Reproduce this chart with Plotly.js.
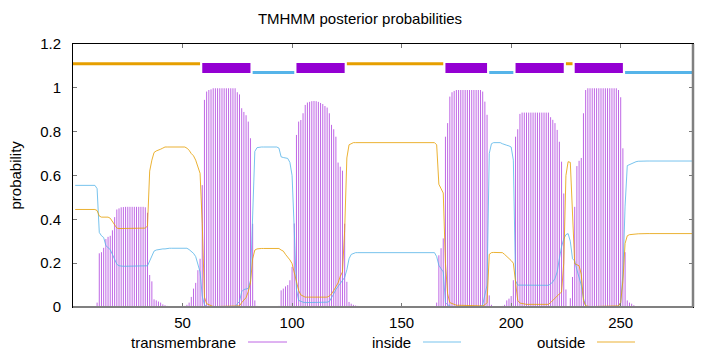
<!DOCTYPE html>
<html>
<head>
<meta charset="utf-8">
<script src="https://cdn.plot.ly/plotly-3.0.1.min.js"></script>
<style>
  html, body { margin: 0; padding: 0; background: #fff; }
  #chart { width: 720px; height: 352px; }
</style>
</head>
<body>
<div id="chart"></div>
<script>
// Posterior probability per residue (1..283)
const transmembrane = [
  0,0,0,0,0,0,0,0,0,0,                                  // 1-10
  .02,.245,.25,.27,.31,.32,.325,.35,.41,.445,           // 11-20
  .45,.455,.456,.457,.457,.457,.457,.457,.457,.457,     // 21-30
  .457,.457,.455,.43,.146,.117,.035,.03,.025,.02,       // 31-40
  .012,.008,.005,.002,.002,.002,.002,.002,.002,.002,    // 41-50
  .005,.01,.02,.046,.084,.11,.168,.22,.556,.945,        // 51-60
  .983,.99,.993,.998,.998,.998,.998,.998,.998,.998,     // 61-70
  .998,.998,.998,.998,.98,.97,.907,.89,.875,.846,       // 71-80
  .77,.38,.03,.005,.002,.002,.002,.002,.002,.002,       // 81-90
  .002,.002,.002,.005,.076,.084,.094,.1,.122,.183,      // 91-100
  .381,.785,.846,.853,.884,.922,.933,.936,.939,.94,     // 101-110
  .939,.936,.931,.926,.917,.91,.884,.831,.811,.777,     // 111-120
  .659,.64,.622,.38,.115,.023,.015,.01,.007,.005,       // 121-130
  .003,.003,.003,.003,.003,.001,.001,.001,.001,.001,    // 131-140
  .001,.001,.001,.001,.001,.001,.001,.001,.001,.001,    // 141-150
  .001,.001,.001,.001,.001,.001,.001,.001,.001,.001,    // 151-160
  .001,.001,.001,.001,.002,.02,.236,.268,.313,.777,     // 161-170
  .839,.96,.98,.986,.99,.99,.99,.99,.99,.99,            // 171-180
  .99,.99,.99,.99,.99,.99,.983,.937,.877,.053,          // 181-190
  .01,.002,.002,.002,.002,.005,.01,.03,.038,.05,        // 191-200
  .122,.777,.811,.881,.887,.887,.887,.887,.887,.887,    // 201-210
  .887,.887,.887,.887,.887,.887,.887,.866,.854,.839,    // 211-220
  .808,.754,.663,.518,.08,.002,.04,.137,.457,.643,      // 221-230
  .667,.68,.884,.99,.998,.998,.998,.998,.998,.998,      // 231-240
  .998,.998,.998,.998,.998,.998,.998,.998,.99,.957,     // 241-250
  .724,.25,.03,.02,.015,.008,.001,.001,.001,.001,       // 251-260
  .001,.001,.001,.001,.001,.001,.001,.001,.001,.001,    // 261-270
  .001,.001,.001,.001,.001,.001,.001,.001,.001,.001,    // 271-280
  .001,.001,.001                                        // 281-283
];
const inside = [
  .555,.555,.555,.555,.555,.555,.555,.555,.555,.555,    // 1-10
  .54,.34,.325,.317,.28,.27,.262,.24,.215,.195,         // 11-20
  .188,.186,.186,.186,.186,.186,.186,.186,.186,.186,    // 21-30
  .186,.186,.186,.188,.21,.23,.255,.26,.262,.265,       // 31-40
  .265,.265,.268,.268,.268,.268,.268,.268,.268,.268,    // 41-50
  .268,.268,.262,.255,.245,.23,.2,.16,.05,.01,          // 51-60
  .002,0,0,0,0,0,0,0,0,0,                               // 61-70
  0,0,0,0,.015,.025,.07,.08,.082,.085,                  // 71-80
  .12,.4,.71,.727,.73,.73,.73,.73,.73,.73,              // 81-90
  .73,.73,.73,.725,.685,.682,.68,.678,.66,.6,           // 91-100
  .35,.08,.03,.025,.022,.02,.02,.02,.02,.02,            // 101-110
  .02,.02,.02,.02,.02,.022,.025,.04,.06,.08,            // 111-120
  .095,.11,.125,.135,.17,.22,.24,.244,.248,.248,        // 121-130
  .248,.248,.248,.248,.25,.25,.25,.25,.25,.25,          // 131-140
  .25,.25,.25,.25,.25,.25,.25,.25,.25,.25,              // 141-150
  .25,.25,.25,.25,.25,.25,.25,.25,.25,.25,              // 151-160
  .25,.25,.25,.25,.248,.23,.19,.175,.16,.02,            // 161-170
  .01,.005,0,0,0,0,0,0,0,0,                             // 171-180
  0,0,0,0,0,0,.01,.05,.1,.7,                            // 181-190
  .745,.75,.75,.75,.75,.745,.74,.738,.735,.73,          // 191-200
  .67,.12,.1,.1,.099,.099,.099,.099,.099,.099,          // 201-210
  .099,.099,.099,.099,.099,.099,.099,.105,.115,.13,     // 211-220
  .16,.22,.275,.31,.33,.335,.3,.22,.21,.17,             // 221-230
  .137,.1,.04,.005,0,0,0,0,0,0,                         // 231-240
  0,0,0,0,0,0,0,0,.005,.02,                             // 241-250
  .15,.46,.645,.65,.655,.66,.663,.665,.666,.666,        // 251-260
  .666,.666,.666,.666,.666,.666,.666,.666,.666,.666,    // 261-270
  .666,.666,.666,.666,.666,.666,.666,.666,.666,.666,    // 271-280
  .666,.666,.666                                        // 281-283
];
const outside = [
  .445,.445,.445,.445,.445,.445,.445,.445,.445,.445,    // 1-10
  .44,.415,.41,.41,.41,.41,.405,.39,.37,.36,            // 11-20
  .358,.358,.358,.358,.358,.358,.358,.358,.358,.358,    // 21-30
  .358,.358,.36,.37,.62,.67,.705,.712,.715,.72,         // 31-40
  .725,.73,.73,.73,.73,.73,.73,.73,.73,.73,             // 41-50
  .73,.725,.715,.70,.69,.67,.64,.61,.38,.045,           // 51-60
  .015,.01,.007,.002,.002,.002,.002,.002,.002,.002,     // 61-70
  .002,.002,.002,.002,.005,.005,.02,.03,.043,.07,       // 71-80
  .11,.22,.26,.265,.267,.267,.267,.267,.267,.267,       // 81-90
  .267,.267,.267,.267,.26,.255,.24,.228,.215,.198,      // 91-100
  .16,.122,.075,.055,.048,.045,.045,.045,.045,.045,     // 101-110
  .045,.045,.045,.045,.045,.045,.05,.06,.075,.09,       // 111-120
  .11,.14,.16,.35,.68,.74,.747,.75,.75,.75,             // 121-130
  .75,.75,.75,.75,.75,.75,.75,.75,.75,.75,              // 131-140
  .75,.75,.75,.75,.75,.75,.75,.75,.75,.75,              // 141-150
  .75,.75,.75,.75,.75,.75,.75,.75,.75,.75,              // 151-160
  .75,.75,.75,.75,.75,.74,.56,.54,.52,.2,               // 161-170
  .06,.02,.015,.01,.008,.008,.008,.008,.008,.008,       // 171-180
  .008,.008,.008,.008,.008,.008,.005,.01,.02,.24,       // 181-190
  .248,.249,.249,.249,.249,.248,.24,.232,.222,.212,     // 191-200
  .2,.1,.03,.018,.015,.012,.012,.012,.012,.012,         // 201-210
  .012,.012,.012,.012,.012,.012,.012,.02,.03,.04,       // 211-220
  .053,.06,.068,.2,.6,.663,.66,.4,.198,.193,            // 221-230
  .188,.15,.03,.005,.002,.002,.002,.002,.002,.002,      // 231-240
  .002,.002,.002,.002,.002,.002,.002,.002,.005,.02,     // 241-250
  .12,.29,.325,.33,.33,.332,.333,.334,.335,.335,        // 251-260
  .335,.335,.335,.335,.335,.335,.335,.335,.335,.335,    // 261-270
  .335,.335,.335,.335,.335,.335,.335,.335,.335,.335,    // 271-280
  .335,.335,.335                                        // 281-283
];
// Predicted topology segments
const topoStart = [0, 59, 82, 102, 125, 170, 190, 202, 225, 229, 252];
const topoEnd   = [58, 81, 101, 124, 169, 189, 201, 224, 228, 251, 283];
const topoType  = ['outside','TM','inside','TM','outside','TM','inside','TM','outside','TM','inside'];
const xTicks = [50, 100, 150, 200, 250];
const yTicks = [0, 0.2, 0.4, 0.6, 0.8, 1, 1.2];
const seriesNames = ['transmembrane', 'inside', 'outside'];

const residues = transmembrane.map((_, i) => i + 1);
const C_TM = '#9400D3', C_IN = '#56B4E9', C_OUT = '#E69F00';
const C_TM_IMP = 'rgba(148,0,211,0.6)';
const C_IN_LINE = 'rgba(86,180,233,0.8)';
const C_OUT_LINE = 'rgba(230,159,0,0.8)';
const FONT = 'Liberation Sans, Arial, Helvetica, sans-serif';

const traces = [];
// topology bars
const topoY = {outside: 1.11, TM: 1.09, inside: 1.07};
const topoW = {outside: 3, TM: 10, inside: 3};
const topoC = {outside: C_OUT, TM: C_TM, inside: C_IN};
topoType.forEach((t, i) => {
  traces.push({
    x: [topoStart[i], topoEnd[i]], y: [topoY[t], topoY[t]],
    mode: 'lines', type: 'scatter', hoverinfo: 'skip', showlegend: false,
    line: {color: topoC[t], width: topoW[t]}
  });
});
// TM impulses
const ix = [], iy = [];
residues.forEach((r, i) => { ix.push(r, r, null); iy.push(0, transmembrane[i], null); });
traces.push({x: ix, y: iy, mode: 'lines', type: 'scatter', showlegend: false,
  line: {color: C_TM_IMP, width: 1}});
traces.push({x: residues, y: inside, mode: 'lines', type: 'scatter', showlegend: false,
  line: {color: C_IN_LINE, width: 1}});
traces.push({x: residues, y: outside, mode: 'lines', type: 'scatter', showlegend: false,
  line: {color: C_OUT_LINE, width: 1}});

const L = 73, R = 693, T = 44, B = 307;
const px2x = p => (p - L) / (R - L);
const py2y = p => (B - p) / (B - T);

const legendItems = [
  {name: seriesNames[0], textEnd: 238, l0: 248, l1: 287, color: C_TM_IMP},
  {name: seriesNames[1], textEnd: 413, l0: 423, l1: 461, color: C_IN_LINE},
  {name: seriesNames[2], textEnd: 587, l0: 597, l1: 635, color: C_OUT_LINE}
];
const legY = 342;
const annotations = legendItems.map(it => ({
  xref: 'paper', yref: 'paper', x: px2x(it.textEnd), y: py2y(legY),
  xanchor: 'right', yanchor: 'middle', showarrow: false, text: it.name,
  font: {family: FONT, size: 15, color: '#000'}
}));
annotations.push({
  xref: 'paper', yref: 'paper', x: px2x(15), y: 0.5, textangle: -90,
  xanchor: 'center', yanchor: 'middle', showarrow: false, text: 'probability',
  font: {family: FONT, size: 15, color: '#000'}
});
const shapes = legendItems.map(it => ({
  type: 'line', xref: 'paper', yref: 'paper',
  x0: px2x(it.l0), x1: px2x(it.l1), y0: py2y(legY), y1: py2y(legY),
  line: {color: it.color, width: 1}
}));
shapes.push({type: 'line', xref: 'paper', yref: 'paper', x0: 0, x1: 1, y0: 0, y1: 0,
  line: {color: '#808080', width: 2}});
shapes.push({type: 'line', xref: 'paper', yref: 'paper', x0: 1, x1: 1, y0: 0, y1: 1,
  line: {color: '#808080', width: 2.5}});

const layout = {
  width: 720, height: 352,
  margin: {l: L, r: 720 - R, t: T, b: 352 - B, pad: 0},
  paper_bgcolor: '#fff', plot_bgcolor: '#fff',
  showlegend: false,
  title: {text: 'TMHMM posterior probabilities', x: 0.5, xref: 'container', xanchor: 'center',
    y: 1 - 19 / 352, yref: 'container', yanchor: 'middle',
    font: {family: FONT, size: 15, color: '#000'}},
  xaxis: {range: [0, 283], tickvals: xTicks, ticktext: xTicks.map(String),
    ticks: 'inside', ticklen: 4, tickcolor: '#777', tickwidth: 1,
    showline: true, linecolor: '#000', linewidth: 1, mirror: 'ticks',
    showgrid: false, zeroline: false, ticklabelstandoff: 2,
    tickfont: {family: FONT, size: 15, color: '#000'}},
  yaxis: {range: [0, 1.2], tickvals: yTicks, ticktext: yTicks.map(String),
    ticks: 'inside', ticklen: 4, tickcolor: '#777', tickwidth: 1,
    showline: true, linecolor: '#000', linewidth: 1, mirror: 'ticks',
    showgrid: false, zeroline: false, ticklabelstandoff: 8,
    tickfont: {family: FONT, size: 15, color: '#000'}},
  annotations: annotations,
  shapes: shapes
};

Plotly.newPlot('chart', traces, layout, {staticPlot: true, displayModeBar: false});
</script>
</body>
</html>
